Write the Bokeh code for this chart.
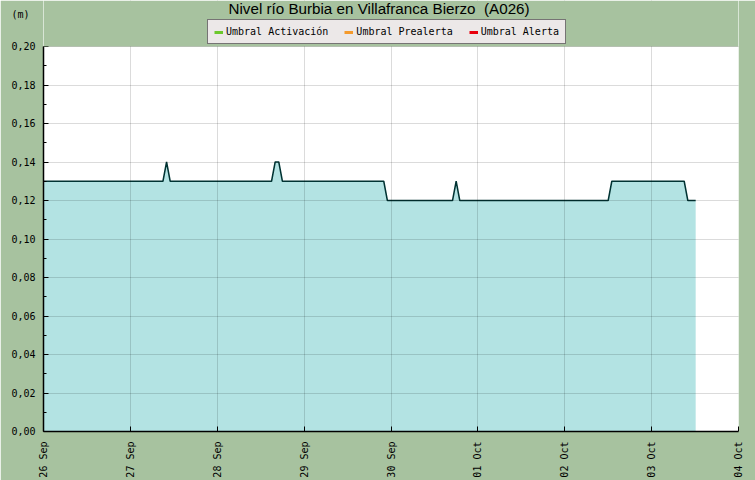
import math
import pandas as pd
from bokeh.plotting import figure
from bokeh.models import (ColumnDataSource, FixedTicker, CustomJSTickFormatter, Label,
                          Legend, LegendItem, Range1d, DatetimeTickFormatter, LinearAxis,
                          BoxAnnotation)
from bokeh.embed import file_html
from bokeh.resources import INLINE

title_text = "Nivel río Burbia en Villafranca Bierzo \u00a0(A026)"
unit_text = "(m)\u00a0"

level_times = [
    "2024-09-26 00:00", "2024-09-27 09:00", "2024-09-27 10:00", "2024-09-27 11:00",
    "2024-09-28 15:00", "2024-09-28 16:00", "2024-09-28 17:00", "2024-09-28 18:00",
    "2024-09-29 22:00", "2024-09-29 23:00", "2024-09-30 17:00", "2024-09-30 18:00",
    "2024-09-30 19:00", "2024-10-02 12:00", "2024-10-02 13:00", "2024-10-03 09:00",
    "2024-10-03 10:00", "2024-10-03 12:10",
]
level_values = [
    0.13, 0.13, 0.14, 0.13,
    0.13, 0.14, 0.14, 0.13,
    0.13, 0.12, 0.12, 0.13,
    0.12, 0.12, 0.13, 0.13,
    0.12, 0.12,
]

day_ticks = ["2024-09-26", "2024-09-27", "2024-09-28", "2024-09-29", "2024-09-30",
             "2024-10-01", "2024-10-02", "2024-10-03", "2024-10-04"]
y_ticks = [0.00, 0.02, 0.04, 0.06, 0.08, 0.10, 0.12, 0.14, 0.16, 0.18, 0.20]
y_minor_ticks = [0.01, 0.03, 0.05, 0.07, 0.09, 0.11, 0.13, 0.15, 0.17, 0.19]

threshold_names = ["Umbral Activación", "Umbral Prealerta", "Umbral Alerta"]
threshold_colors = ["#6cc82c", "#f49a2c", "#e8000c"]

BG = "#a7c29f"
MONO = "DejaVu Sans Mono"
SANS = "Liberation Sans"

# layout: frame spans the full height above the x axis; the plot area (0..0.20)
# occupies its lower 385 px, the 46 px band above it holds title and legend
FRAME_H, PLOT_H = 431, 385
y_top = y_ticks[-1] * FRAME_H / PLOT_H
unit_pos = y_ticks[-1] * (FRAME_H - 14) / PLOT_H

src = ColumnDataSource(dict(t=pd.to_datetime(level_times), v=level_values))
day_ms = [pd.Timestamp(d).value // 10**6 for d in day_ticks]

p = figure(width=755, height=480, x_axis_type="datetime", title=None,
           x_range=Range1d(start=day_ms[0], end=day_ms[-1]),
           y_range=Range1d(start=y_ticks[0], end=y_top),
           output_backend="svg", toolbar_location=None,
           min_border_left=43, min_border_right=17, min_border_top=0, min_border_bottom=49,
           background_fill_color="white", border_fill_color=BG)

p.varea(x="t", y1=0, y2="v", source=src, fill_color="#b3e3e3")
p.line(x="t", y="v", source=src, line_color="#003333", line_width=1.5)

# grids
p.xgrid.level = "annotation"
p.ygrid.level = "overlay"
p.grid.grid_line_color = "black"
p.grid.grid_line_alpha = 0.14
p.outline_line_color = None

# band above the plot area, in the page colour
p.add_layout(BoxAnnotation(bottom=y_ticks[-1], fill_color=BG, fill_alpha=1.0,
                           line_color=None, level="annotation"))

# threshold legend (thresholds lie above the shown range)
items = []
for name, col in zip(threshold_names, threshold_colors):
    r = p.line(x=[day_ms[0]], y=[float("nan")], line_color=col, line_width=3)
    items.append(LegendItem(label=name, renderers=[r]))

legend = Legend(items=items, location=(164, 387), orientation="horizontal",
                label_text_font=MONO, label_text_font_size="10px", label_text_color="black",
                label_height=10, glyph_width=9, glyph_height=10, label_standoff=3,
                spacing=16, padding=6, margin=0, level="overlay",
                background_fill_color="#ece8e8", background_fill_alpha=1.0,
                border_line_color="black", border_line_width=1)
p.add_layout(legend)

p.add_layout(Label(x=185, y=423, x_units="screen", y_units="screen", text=title_text,
                   text_font=SANS, text_font_size="15.2px", text_color="black",
                   text_align="left", text_baseline="alphabetic", level="overlay"))

# x axis
p.xaxis.ticker = FixedTicker(ticks=day_ms)
fmt = "%d %b"
p.xaxis.formatter = DatetimeTickFormatter(days=fmt, hours=fmt, months=fmt, hourmin=fmt,
                                          minutes=fmt, minsec=fmt, seconds=fmt, years=fmt,
                                          milliseconds=fmt, microseconds=fmt)
p.xaxis.major_label_orientation = math.pi / 2
p.xaxis.major_tick_in = 5
p.xaxis.major_tick_out = 0
p.xaxis.minor_tick_in = 0
p.xaxis.minor_tick_out = 0
p.xaxis.major_label_standoff = 10
p.xaxis.axis_line_color = "black"
p.xaxis.axis_line_width = 1.5
p.xaxis.major_tick_line_color = "black"
p.xaxis.major_label_text_font = MONO
p.xaxis.major_label_text_font_size = "10px"
p.xaxis.major_label_text_color = "black"

# y axis line and ticks (labels drawn by the outer axis)
ya = p.yaxis[0]
ya.bounds = (y_ticks[0], y_ticks[-1])
ya.ticker = FixedTicker(ticks=y_ticks, minor_ticks=y_minor_ticks)
ya.formatter = CustomJSTickFormatter(code="return '';")
ya.major_label_text_font_size = "0px"
ya.major_label_standoff = 0
ya.major_tick_in = 5
ya.major_tick_out = 0
ya.minor_tick_in = 3
ya.minor_tick_out = 0
ya.axis_line_color = "black"
ya.axis_line_width = 1.5
ya.major_tick_line_color = "black"
ya.minor_tick_line_color = "black"

# y tick labels plus the unit "(m)" at the top
yb = LinearAxis(ticker=FixedTicker(ticks=y_ticks + [unit_pos]),
                formatter=CustomJSTickFormatter(
                    args=dict(top=y_ticks[-1], unit=unit_text),
                    code="return tick > top + 1e-9 ? unit : tick.toFixed(2).replace('.', ',');"),
                axis_line_color=None, major_tick_line_color=None, minor_tick_line_color=None,
                major_tick_in=0, major_tick_out=0, minor_tick_in=0, minor_tick_out=0,
                major_label_standoff=8, major_label_text_font=MONO,
                major_label_text_font_size="10px", major_label_text_color="black")
p.add_layout(yb, "left")

open("out.html", "w").write(file_html(p, INLINE))
